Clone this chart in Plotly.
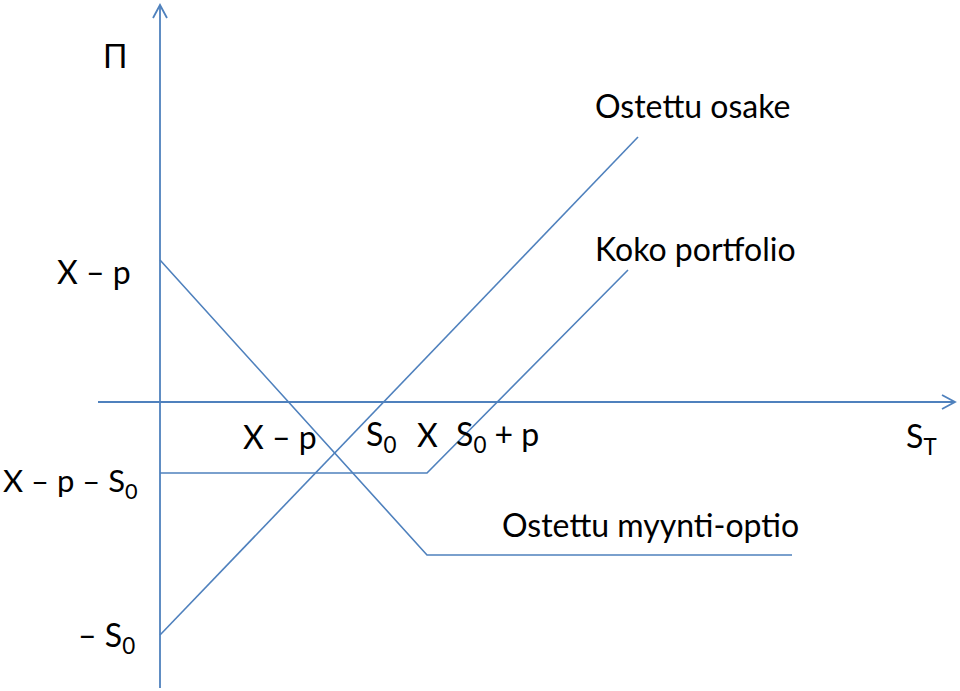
import plotly.graph_objects as go

# Payoff diagram values (in drawing units: origin at axes crossing)
stock_x = [0, 478]
stock_y = [-233, 265]
put_x = [0, 267, 632]
put_y = [142, -153, -153]
port_x = [0, 267, 468]
port_y = [-71, -71, 132]

series_names = ["Ostettu osake", "Ostettu myynti-optio", "Koko portfolio"]
x_tick_labels = ["X – p", "S<sub>0</sub>", "X", "S<sub>0</sub> + p"]
y_tick_labels = ["X – p", "X – p – S<sub>0</sub>", "– S<sub>0</sub>"]

BLUE = "#4F81BD"
FONT = "Lato"
FS = 32

fig = go.Figure()
for name, xs, ys in zip(series_names, [stock_x, put_x, port_x], [stock_y, put_y, port_y]):
    fig.add_trace(go.Scatter(x=xs, y=ys, mode="lines", name=name,
                             line=dict(color=BLUE, width=1.6), showlegend=False,
                             hoverinfo="skip"))

# axes with open arrowheads
shapes = [
    dict(type="line", x0=0, y0=-286, x1=0, y1=397, line=dict(color=BLUE, width=1.8)),
    dict(type="line", x0=-62, y0=0, x1=795, y1=0, line=dict(color=BLUE, width=1.8)),
    dict(type="path", path="M -7,384 L 0,397 L 7,384", line=dict(color=BLUE, width=1.8)),
    dict(type="path", path="M 782,7 L 795,0 L 782,-7", line=dict(color=BLUE, width=1.8)),
]

def ann(text, x, y, xanchor="center", size=FS):
    return dict(text=text, x=x, y=y, xref="x", yref="y", showarrow=False,
                xanchor=xanchor, yanchor="middle",
                font=dict(family=FONT, size=size, color="black"))

annotations = [
    ann("Π", -45, 347),
    ann(y_tick_labels[0], -27, 131, "right"),
    ann(y_tick_labels[1], -159, -80, "left", 31),
    ann(y_tick_labels[2], -23, -235, "right"),
    ann(x_tick_labels[0], 120, -34),
    ann(x_tick_labels[1], 221, -34),
    ann(x_tick_labels[2], 267, -32),
    ann(x_tick_labels[3], 337, -34),
    ann("S<sub>T</sub>", 761, -36),
    ann(series_names[0], 433, 297, "left"),
    ann(series_names[2], 433, 154, "left"),
    ann(series_names[1], 340, -122, "left"),
]

fig.update_layout(
    width=960, height=691,
    margin=dict(l=0, r=0, t=0, b=0),
    paper_bgcolor="white", plot_bgcolor="white",
    xaxis=dict(range=[-160, 800], visible=False, fixedrange=True),
    yaxis=dict(range=[-289, 402], visible=False, fixedrange=True),
    shapes=shapes, annotations=annotations,
)

fig.write_html("out.html", config={"displayModeBar": False},
               post_script="document.body.style.margin='0';document.body.style.overflow='hidden';")
